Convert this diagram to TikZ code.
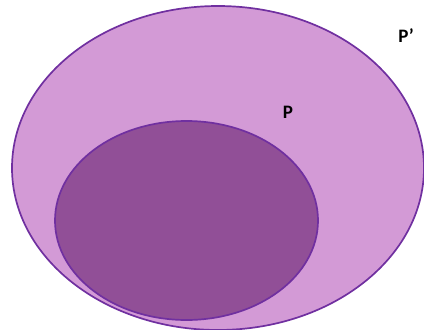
\documentclass[tikz,border=0pt]{standalone}
\usepackage{fontspec}
\setmainfont{Carlito}
\usepackage{tikz}

\definecolor{setlight}{RGB}{211,154,214}
\definecolor{setdark}{RGB}{145,79,151}
\definecolor{setedge}{RGB}{112,48,160}

\begin{document}
\begin{tikzpicture}[
    x=1pt, y=-1pt,
    line width=1.7pt,
    every node/.style={font=\fontsize{19}{21}\selectfont\bfseries},
    setshape/.style={draw=setedge},
    setlabel/.style={inner sep=0pt, anchor=center}
]
\useasboundingbox (0,0) rectangle (424,330);

% universal set and subset
\draw[setshape, fill=setlight] (218,168) ellipse [x radius=206, y radius=162];
\draw[setshape, fill=setdark] (186.5,220.5) ellipse [x radius=131.5, y radius=99.5];

\node[setlabel] (outerlabel) at (406,36) {P’};
\node[setlabel] (innerlabel) at (288,112) {P};

\end{tikzpicture}
\end{document}
